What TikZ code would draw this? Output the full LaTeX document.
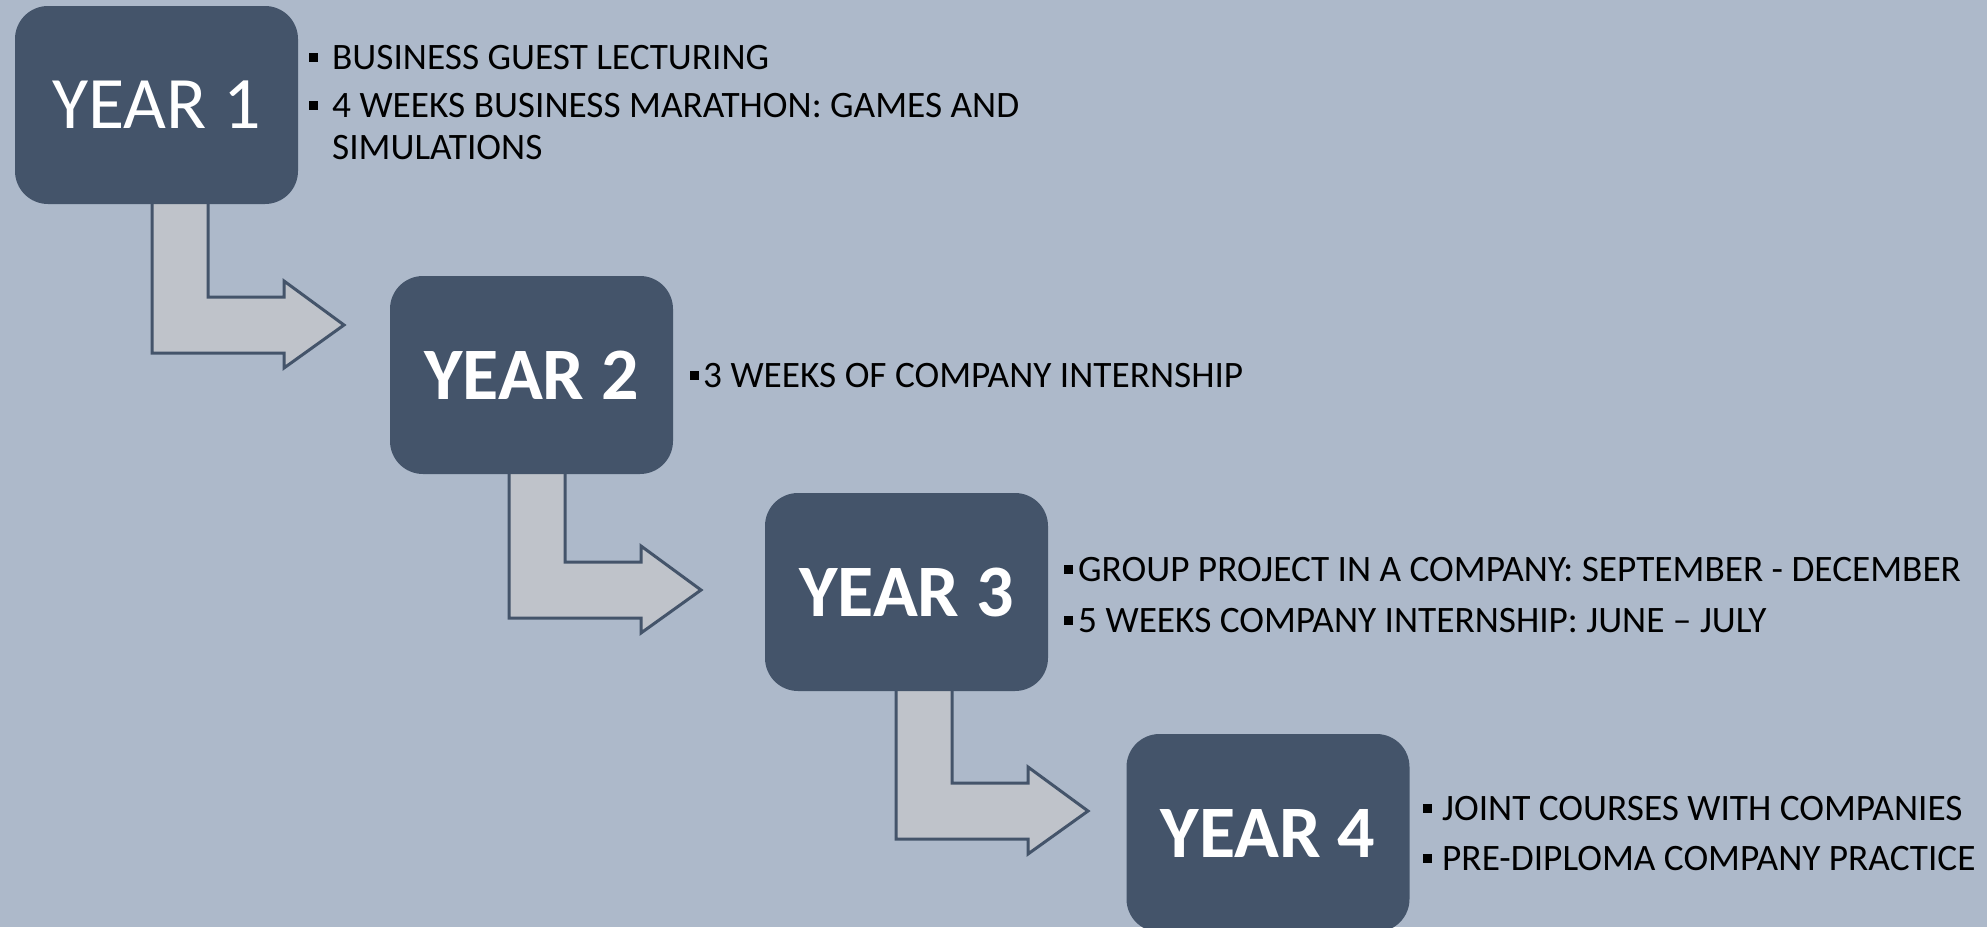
\documentclass[tikz,border=0pt]{standalone}
\usepackage{fontspec}
\setmainfont{Carlito}
\definecolor{bgc}{HTML}{ADB9CA}
\definecolor{boxc}{HTML}{44546A}
\definecolor{arrc}{HTML}{BFC3CA}
\tikzset{
  yearbox/.style={rectangle, rounded corners=33pt, minimum width=283pt, minimum height=198pt,
    fill=boxc, text=white, inner sep=0pt, font=\fontsize{74}{80}\selectfont},
  item/.style={anchor=base west, inner sep=0pt, text=black, font=\fontsize{37.3}{40}\selectfont},
  blt/.style={fill=black},
  bentarrowsty/.style={fill=arrc, draw=boxc, line width=3pt, line join=miter},
}
\newcommand\bentarrow[3]{%
  \draw[bentarrowsty] (#1,#2) -- (#1,#3+56) -- (#1+132,#3+56) -- (#1+132,#3+71)
    -- (#1+192,#3+28) -- (#1+132,#3-16) -- (#1+132,#3) -- (#1+56,#3) -- (#1+56,#2);}
\newcommand\bulletsq[2]{\fill[blt] (#1-4.5,#2-4.5) rectangle (#1+4.5,#2+4.5);}
\begin{document}
\begin{tikzpicture}[x=1pt,y=-1pt]
\clip (0,0) rectangle (1987,927);
\fill[bgc] (0,0) rectangle (1987,927);
% arrows
\bentarrow{152}{198}{297}
\bentarrow{509}{468}{562}
\bentarrow{896}{685}{783}
% boxes
\node[yearbox] (y1) at (156.5,105) {YEAR 1};
\node[yearbox, font=\fontsize{74}{80}\selectfont\bfseries] (y2) at (531.5,375) {YEAR 2};
\node[yearbox, font=\fontsize{74}{80}\selectfont\bfseries] (y3) at (906.5,592) {YEAR 3};
\node[yearbox, font=\fontsize{74}{80}\selectfont\bfseries] (y4) at (1268,833) {YEAR 4};
% year 1 items
\bulletsq{313}{57}
\node[item] (t1a) at (332,69) {BUSINESS GUEST LECTURING};
\bulletsq{313}{105}
\node[item] (t1b) at (332,117) {4 WEEKS BUSINESS MARATHON: GAMES AND};
\node[item] (t1c) at (332,159) {SIMULATIONS};
% year 2
\bulletsq{694}{375}
\node[item] (t2a) at (703,387) {3 WEEKS OF COMPANY INTERNSHIP};
% year 3
\bulletsq{1068}{569}
\node[item] (t3a) at (1078,581) {GROUP PROJECT IN A COMPANY: SEPTEMBER - DECEMBER};
\bulletsq{1068}{620}
\node[item] (t3b) at (1078,632) {5 WEEKS COMPANY INTERNSHIP: JUNE – JULY};
% year 4
\bulletsq{1427}{808}
\node[item] (t4a) at (1442,820) {JOINT COURSES WITH COMPANIES};
\bulletsq{1427}{858}
\node[item] (t4b) at (1442,870) {PRE-DIPLOMA COMPANY PRACTICE};
\end{tikzpicture}
\end{document}
